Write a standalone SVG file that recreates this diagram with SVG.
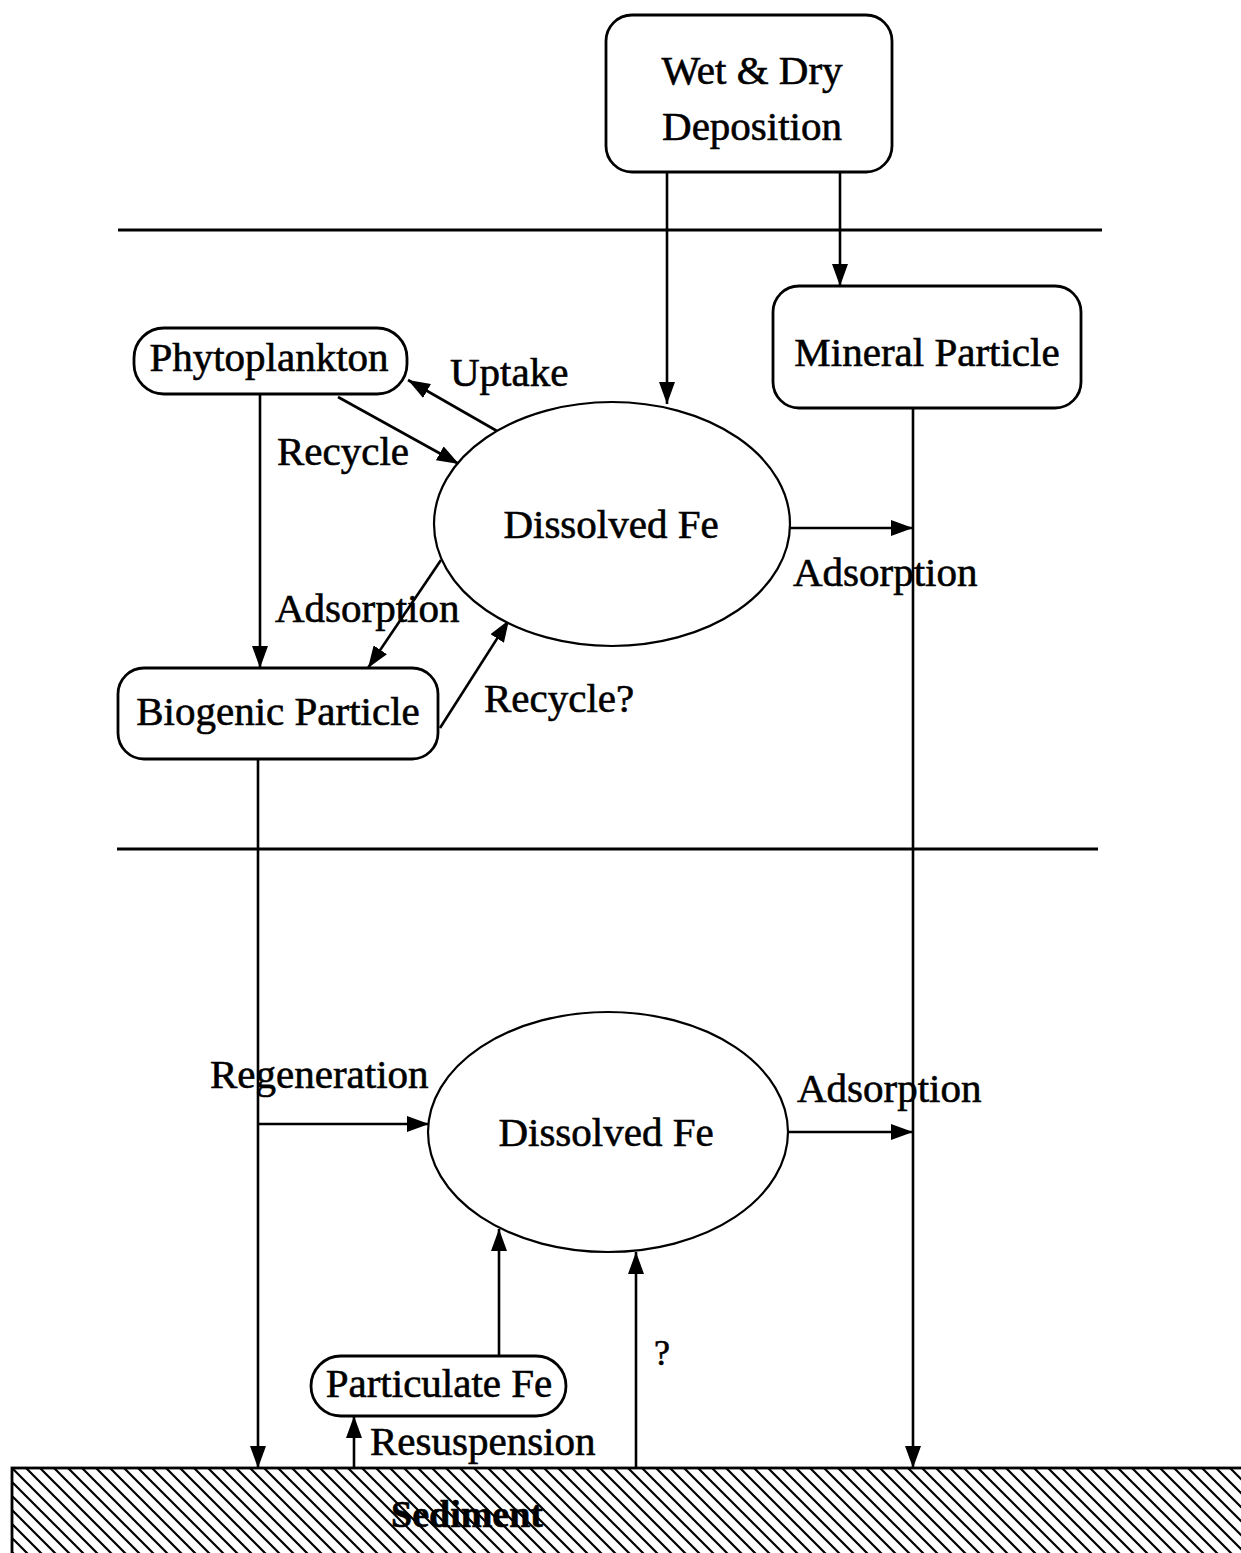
<svg xmlns="http://www.w3.org/2000/svg" width="1241" height="1553" viewBox="0 0 1241 1553">
<defs>
<marker id="ah" viewBox="0 0 22 16" refX="22" refY="8" markerWidth="22" markerHeight="16" orient="auto" markerUnits="userSpaceOnUse"><path d="M0,0 L22,8 L0,16 z" fill="#000"/></marker>
<pattern id="hatch" patternUnits="userSpaceOnUse" width="14" height="14">
<path d="M0,0 L14,14 M-5,9 L5,19 M9,-5 L19,5" stroke="#000" stroke-width="2.2"/>
</pattern>
</defs>
<style>
text{font-family:"Liberation Serif","Times New Roman",serif;font-size:41px;fill:#000;stroke:#000;stroke-width:0.6}
.c{text-anchor:middle}
.box{fill:#fff;stroke:#000;stroke-width:2.8}
.ln{fill:none;stroke:#000;stroke-width:2.8}
.ar{fill:none;stroke:#000;stroke-width:2.6;marker-end:url(#ah)}
</style>
<rect width="1241" height="1553" fill="#fff"/>
<g id="layers">
<line class="ln" x1="118" y1="230" x2="1102" y2="230"/>
<line class="ln" x1="117" y1="849" x2="1098" y2="849"/>
</g>
<g id="sediment">
<rect x="12" y="1468" width="1240" height="95" fill="url(#hatch)" stroke="#000" stroke-width="2.8"/>
<text class="c" x="467" y="1527" style="font-size:38px;font-weight:bold">Sediment</text>
</g>
<g id="connectors">
<line class="ar" x1="667" y1="172" x2="667" y2="404"/>
<line class="ar" x1="840" y1="172" x2="840" y2="286"/>
<line class="ar" x1="913" y1="408" x2="913" y2="1468"/>
<line class="ar" x1="497" y1="431" x2="408" y2="380"/>
<line class="ar" x1="338" y1="397" x2="459" y2="464"/>
<line class="ar" x1="260" y1="394" x2="260" y2="668"/>
<line class="ar" x1="441" y1="560" x2="368" y2="668"/>
<line class="ar" x1="440" y1="728" x2="509" y2="620"/>
<line class="ar" x1="790" y1="528" x2="913" y2="528"/>
<line class="ar" x1="258" y1="759" x2="258" y2="1468"/>
<line class="ar" x1="258" y1="1124" x2="429" y2="1124"/>
<line class="ar" x1="788" y1="1132" x2="913" y2="1132"/>
<line class="ar" x1="499" y1="1356" x2="499" y2="1229"/>
<line class="ar" x1="354" y1="1468" x2="354" y2="1416"/>
<line class="ar" x1="636" y1="1468" x2="636" y2="1252"/>
<text x="450" y="386">Uptake</text>
<text x="277" y="465">Recycle</text>
<text x="275" y="622">Adsorption</text>
<text x="484" y="712">Recycle?</text>
<text x="793" y="586">Adsorption</text>
<text x="210" y="1088">Regeneration</text>
<text x="797" y="1102">Adsorption</text>
<text x="370" y="1455">Resuspension</text>
<text x="654" y="1365" style="font-size:36px">?</text>
</g>
<g id="wet-dry-deposition">
<rect class="box" x="606" y="15" width="286" height="157" rx="26"/>
<text class="c" x="752" y="84">Wet &amp; Dry</text>
<text class="c" x="752" y="140">Deposition</text>
</g>
<g id="mineral-particle">
<rect class="box" x="773" y="286" width="308" height="122" rx="26"/>
<text class="c" x="927" y="366">Mineral Particle</text>
</g>
<g id="phytoplankton">
<rect class="box" x="134" y="328" width="273" height="66" rx="30"/>
<text class="c" x="269" y="371">Phytoplankton</text>
</g>
<g id="dissolved-fe-upper">
<ellipse class="box" cx="612" cy="524" rx="178" ry="122" style="stroke-width:2.2"/>
<text class="c" x="611" y="538">Dissolved Fe</text>
</g>
<g id="biogenic-particle">
<rect class="box" x="118" y="668" width="320" height="91" rx="26"/>
<text class="c" x="278" y="725">Biogenic Particle</text>
</g>
<g id="dissolved-fe-lower">
<ellipse class="box" cx="608" cy="1132" rx="180" ry="120" style="stroke-width:2.2"/>
<text class="c" x="606" y="1146">Dissolved Fe</text>
</g>
<g id="particulate-fe">
<rect class="box" x="311" y="1356" width="255" height="60" rx="30"/>
<text class="c" x="439" y="1397">Particulate Fe</text>
</g>
</svg>
